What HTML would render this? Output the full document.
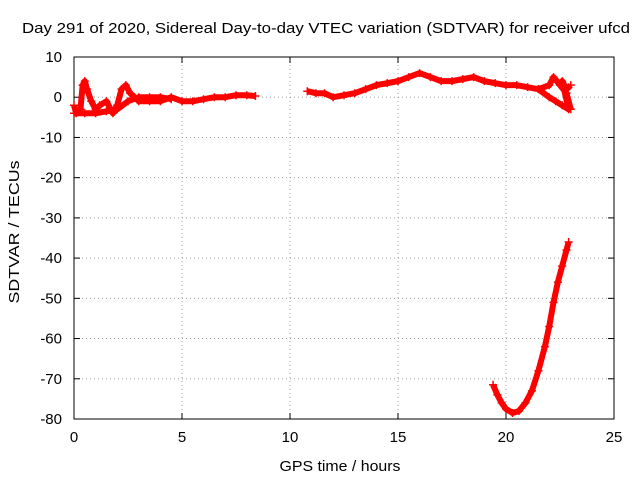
<!DOCTYPE html>
<html><head><meta charset="utf-8"><style>
body{margin:0;background:#fff}
svg{display:block;font-family:"Liberation Sans",sans-serif;font-size:15px}
</style></head><body>
<svg id="chart" width="640" height="480">
<text x="326" y="33" text-anchor="middle" textLength="608" lengthAdjust="spacingAndGlyphs">Day 291 of 2020, Sidereal Day-to-day VTEC variation (SDTVAR) for receiver ufcd</text>
<g id="grid"></g>
<g id="axes"></g>
<g id="plot"></g>
<text x="340" y="471" text-anchor="middle" textLength="121" lengthAdjust="spacingAndGlyphs">GPS time / hours</text>
<text transform="translate(19,232) rotate(-90)" text-anchor="middle" textLength="143" lengthAdjust="spacingAndGlyphs">SDTVAR / TECUs</text>
</svg>
<script>
const xTicks=[0,5,10,15,20,25];
const yTicks=[10,0,-10,-20,-30,-40,-50,-60,-70,-80];
const segAUpperT=[0,0.1,0.3,0.4,0.5,0.6,0.8,1,1.2,1.5,1.8,2,2.2,2.4,2.6,2.8,3,3.5,4,4.5,5,5.5,6,6.5,7,7.5,8,8.4];
const segAUpperV=[-2,-4,-3,3,4,2,-1,-3,-2,-1,-4,-2,2,3,1,0,-1,-1,-1,0,-1,-1,-0.5,0,0,0.5,0.5,0.3];
const segALowerT=[0,0.5,1,1.5,2,2.5,3,3.5,4,4.5];
const segALowerV=[-4,-4,-4,-3.5,-3,-1,0,0,0,-0.5];
const segBT=[10.8,11.2,11.6,12,12.5,13,13.5,14,14.5,15,15.5,16,16.5,17,17.5,18,18.5,19,19.5,20,20.5,21,21.5,22,22.2,22.5,22.8,23];
const segBV=[1.5,1,1,0,0.5,1,2,3,3.5,4,5,6,5,4,4,4.5,5,4,3.5,3,3,2.5,2,3,5,3,1,-3];
const segB2T=[21.5,22,22.3,22.6,22.9,22.6,22.8,23];
const segB2V=[2,0,-1,-2,-3,4,2,3];
const segCT=[19.4,19.6,19.8,20,20.3,20.6,20.9,21.2,21.5,21.8,22,22.2,22.4,22.6,22.8,22.9];
const segCV=[-71.5,-74,-76,-77.5,-78.5,-78,-76,-73,-68,-62,-57,-51,-46,-42,-38,-36];
const L=74,R=614,T=57,B=419;
const xs=t=>L+(t-0)/(25-0)*(R-L);
const ys=v=>T+(10-v)/(90)*(B-T);
const NS='http://www.w3.org/2000/svg';
function mk(tag,attrs,parent){const e=document.createElementNS(NS,tag);for(const k in attrs)e.setAttribute(k,attrs[k]);parent.appendChild(e);return e;}
const grid=document.getElementById('grid'),axes=document.getElementById('axes'),plot=document.getElementById('plot');
xTicks.forEach(t=>{const x=xs(t);
 if(t>0&&t<25){const g=mk('line',{x1:x,x2:x,y1:T,y2:B,stroke:'#a0a0a0','stroke-dasharray':'1,3'},grid);}
 mk('line',{x1:x,x2:x,y1:B,y2:B-6,stroke:'#000'},axes);mk('line',{x1:x,x2:x,y1:T,y2:T+6,stroke:'#000'},axes);
 const tx=mk('text',{x:x,y:B+23,'text-anchor':'middle'},axes);tx.textContent=t;
 });
yTicks.forEach(v=>{const y=ys(v);
 if(v<10&&v>-80){const g=mk('line',{x1:L,x2:R,y1:y,y2:y,stroke:'#a0a0a0','stroke-dasharray':'1,3'},grid);}
 mk('line',{x1:L,x2:L+6,y1:y,y2:y,stroke:'#000'},axes);mk('line',{x1:R,x2:R-6,y1:y,y2:y,stroke:'#000'},axes);
 const tx=mk('text',{x:L-12,y:y+5,'text-anchor':'end'},axes);tx.textContent=v;
 });
const fr=mk('rect',{x:L,y:T,width:R-L,height:B-T,fill:'none',stroke:'#000'},axes);

function series(ts,vs,name){
 const pts=ts.map((t,i)=>xs(t)+','+ys(vs[i])).join(' ');
 const pl=mk('polyline',{points:pts,fill:'none',stroke:'#f00','stroke-width':6,'stroke-linejoin':'round'},plot);
 
 ts.forEach((t,i)=>{const x=xs(t),y=ys(vs[i]);
  const p=mk('path',{d:`M${x-4},${y}H${x+4}M${x},${y-4}V${y+4}`,stroke:'#f00','stroke-width':1.5},plot);
  });
}
series(segAUpperT,segAUpperV,'series-a-upper');
series(segALowerT,segALowerV,'series-a-lower');
series(segBT,segBV,'series-b');
series(segB2T,segB2V,'series-b-branch');
series(segCT,segCV,'series-c-dip');
</script>
</body></html>
